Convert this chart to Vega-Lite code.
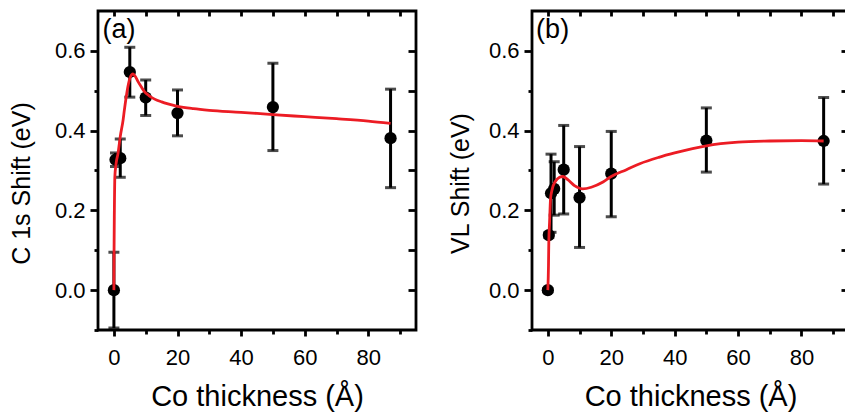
{
  "$schema": "https://vega.github.io/schema/vega-lite/v6.json",
  "background": "white",
  "padding": {"left": 8, "top": 8, "right": 0, "bottom": 0},
  "spacing": 28,
  "datasets": {
    "ptsA": [
      {"x": 0, "y": 0, "lo": -0.095, "hi": 0.095},
      {"x": 0.5, "y": 0.327, "lo": 0.31, "hi": 0.344},
      {"x": 2, "y": 0.331, "lo": 0.283, "hi": 0.379},
      {"x": 5, "y": 0.547, "lo": 0.484, "hi": 0.609},
      {"x": 10, "y": 0.483, "lo": 0.438, "hi": 0.527},
      {"x": 20, "y": 0.444, "lo": 0.387, "hi": 0.502},
      {"x": 50, "y": 0.459, "lo": 0.35, "hi": 0.569},
      {"x": 87, "y": 0.381, "lo": 0.257, "hi": 0.504}
    ],
    "ptsB": [
      {"x": 0, "y": 0, "lo": -0.004, "hi": 0.004},
      {"x": 0.3, "y": 0.138, "lo": 0.132, "hi": 0.144},
      {"x": 1, "y": 0.243, "lo": 0.145, "hi": 0.341},
      {"x": 2, "y": 0.254, "lo": 0.188, "hi": 0.322},
      {"x": 5, "y": 0.302, "lo": 0.191, "hi": 0.413},
      {"x": 10, "y": 0.232, "lo": 0.107, "hi": 0.36},
      {"x": 20, "y": 0.292, "lo": 0.184, "hi": 0.398},
      {"x": 50, "y": 0.375, "lo": 0.296, "hi": 0.457},
      {"x": 87, "y": 0.374, "lo": 0.266, "hi": 0.483}
    ],
    "fitA": [
      {"x": 0, "y": 0}, {"x": 0.05, "y": 0.1}, {"x": 0.15, "y": 0.2}, {"x": 0.3, "y": 0.284},
      {"x": 0.7, "y": 0.318}, {"x": 1.3, "y": 0.343}, {"x": 2.0, "y": 0.385}, {"x": 2.9, "y": 0.427},
      {"x": 3.3, "y": 0.452}, {"x": 4.4, "y": 0.51}, {"x": 5.2, "y": 0.535}, {"x": 6.0, "y": 0.542},
      {"x": 6.8, "y": 0.535}, {"x": 7.6, "y": 0.523}, {"x": 8.6, "y": 0.51}, {"x": 9.6, "y": 0.498},
      {"x": 11, "y": 0.488}, {"x": 12.8, "y": 0.479}, {"x": 15, "y": 0.472}, {"x": 17, "y": 0.467},
      {"x": 20, "y": 0.461}, {"x": 25, "y": 0.455}, {"x": 30, "y": 0.451}, {"x": 40, "y": 0.446},
      {"x": 50, "y": 0.44}, {"x": 60, "y": 0.435}, {"x": 70, "y": 0.43}, {"x": 80, "y": 0.424},
      {"x": 87, "y": 0.418}
    ],
    "fitB": [
      {"x": 0, "y": 0}, {"x": 0.2, "y": 0.061}, {"x": 0.3, "y": 0.12}, {"x": 0.54, "y": 0.17},
      {"x": 0.85, "y": 0.229}, {"x": 1.4, "y": 0.254}, {"x": 2.4, "y": 0.273}, {"x": 3.7, "y": 0.283},
      {"x": 4.7, "y": 0.285}, {"x": 6.3, "y": 0.277}, {"x": 8.4, "y": 0.262}, {"x": 11, "y": 0.254},
      {"x": 13.7, "y": 0.258}, {"x": 17.4, "y": 0.271}, {"x": 20, "y": 0.285}, {"x": 24.8, "y": 0.302},
      {"x": 29, "y": 0.317}, {"x": 35, "y": 0.333}, {"x": 40, "y": 0.344}, {"x": 50, "y": 0.362},
      {"x": 60, "y": 0.371}, {"x": 70, "y": 0.374}, {"x": 80, "y": 0.375}, {"x": 87, "y": 0.374}
    ]
  },
  "hconcat": [
    {
      "width": 318,
      "height": 319,
      "resolve": {"axis": {"x": "independent", "y": "independent"}},
      "layer": [
        {
          "data": {"name": "ptsA"},
          "mark": {"type": "rule", "color": "black", "strokeWidth": 3},
          "encoding": {
            "x": {"field": "x", "type": "quantitative", "scale": {"domain": [-5, 95], "nice": false, "zero": false},
                  "axis": {"orient": "bottom", "values": [0, 20, 40, 60, 80], "format": "d", "tickSize": 6, "labelPadding": 11, "title": "Co thickness (Å)", "titleFontSize": 29, "titlePadding": 14}},
            "y": {"field": "lo", "type": "quantitative", "scale": {"domain": [-0.1, 0.7], "nice": false, "zero": false},
                  "axis": {"orient": "left", "values": [0, 0.2, 0.4, 0.6], "format": ".1f", "tickSize": 8, "labelPadding": 5, "title": "C 1s  Shift (eV)", "titleFontSize": 25, "titlePadding": 20, "titleY": 172}},
            "y2": {"field": "hi"}
          }
        },
        {
          "data": {"name": "ptsA"},
          "mark": {"type": "tick", "orient": "horizontal", "color": "black", "size": 11, "thickness": 3},
          "encoding": {
            "x": {"field": "x", "type": "quantitative", "scale": {"domain": [-5, 95], "nice": false, "zero": false},
                  "axis": {"orient": "bottom", "values": [10, 30, 50, 70, 90], "labels": false, "tickSize": 4, "title": null}},
            "y": {"field": "lo", "type": "quantitative", "scale": {"domain": [-0.1, 0.7], "nice": false, "zero": false},
                  "axis": {"orient": "left", "values": [-0.1, 0.1, 0.3, 0.5], "labels": false, "tickSize": 4, "title": null}}
          }
        },
        {
          "data": {"name": "ptsA"},
          "mark": {"type": "tick", "orient": "horizontal", "color": "black", "size": 11, "thickness": 3},
          "encoding": {
            "x": {"field": "x", "type": "quantitative", "scale": {"domain": [-5, 95], "nice": false, "zero": false},
                  "axis": {"orient": "top", "values": [0, 10, 20, 30, 40, 50, 60, 70, 80, 90], "labels": false, "tickSize": -5, "title": null}},
            "y": {"field": "hi", "type": "quantitative", "scale": {"domain": [-0.1, 0.7], "nice": false, "zero": false},
                  "axis": {"orient": "right", "values": [0, 0.1, 0.2, 0.3, 0.4, 0.5, 0.6], "labels": false, "tickSize": -8, "title": null}}
          }
        },
        {
          "data": {"name": "ptsA"},
          "mark": {"type": "circle", "color": "black", "opacity": 1, "size": 150},
          "encoding": {
            "x": {"field": "x", "type": "quantitative", "scale": {"domain": [-5, 95], "nice": false, "zero": false}, "axis": null},
            "y": {"field": "y", "type": "quantitative", "scale": {"domain": [-0.1, 0.7], "nice": false, "zero": false}, "axis": null}
          }
        },
        {
          "data": {"name": "fitA"},
          "mark": {"type": "line", "color": "#ec1c24", "strokeWidth": 2.8, "interpolate": "monotone"},
          "encoding": {
            "x": {"field": "x", "type": "quantitative", "scale": {"domain": [-5, 95], "nice": false, "zero": false}, "axis": null},
            "y": {"field": "y", "type": "quantitative", "scale": {"domain": [-0.1, 0.7], "nice": false, "zero": false}, "axis": null}
          }
        },
        {
          "data": {"values": [{"label": "(a)"}]},
          "mark": {"type": "text", "align": "left", "baseline": "alphabetic", "fontSize": 27, "font": "Liberation Sans", "color": "black"},
          "encoding": {
            "text": {"field": "label"},
            "x": {"datum": -3.6, "type": "quantitative", "axis": null},
            "y": {"datum": 0.632, "type": "quantitative", "axis": null}
          }
        }
      ]
    },
    {
      "width": 317,
      "height": 319,
      "resolve": {"axis": {"x": "independent", "y": "independent"}},
      "layer": [
        {
          "data": {"name": "ptsB"},
          "mark": {"type": "rule", "color": "black", "strokeWidth": 3},
          "encoding": {
            "x": {"field": "x", "type": "quantitative", "scale": {"domain": [-5, 95], "nice": false, "zero": false},
                  "axis": {"orient": "bottom", "values": [0, 20, 40, 60, 80], "format": "d", "tickSize": 6, "labelPadding": 11, "title": "Co thickness (Å)", "titleFontSize": 29, "titlePadding": 14}},
            "y": {"field": "lo", "type": "quantitative", "scale": {"domain": [-0.1, 0.7], "nice": false, "zero": false},
                  "axis": {"orient": "left", "values": [0, 0.2, 0.4, 0.6], "format": ".1f", "tickSize": 8, "labelPadding": 5, "title": "VL Shift (eV)", "titleFontSize": 25, "titlePadding": 15, "titleY": 172}},
            "y2": {"field": "hi"}
          }
        },
        {
          "data": {"name": "ptsB"},
          "mark": {"type": "tick", "orient": "horizontal", "color": "black", "size": 11, "thickness": 3},
          "encoding": {
            "x": {"field": "x", "type": "quantitative", "scale": {"domain": [-5, 95], "nice": false, "zero": false},
                  "axis": {"orient": "bottom", "values": [10, 30, 50, 70, 90], "labels": false, "tickSize": 4, "title": null}},
            "y": {"field": "lo", "type": "quantitative", "scale": {"domain": [-0.1, 0.7], "nice": false, "zero": false},
                  "axis": {"orient": "left", "values": [-0.1, 0.1, 0.3, 0.5], "labels": false, "tickSize": 4, "title": null}}
          }
        },
        {
          "data": {"name": "ptsB"},
          "mark": {"type": "tick", "orient": "horizontal", "color": "black", "size": 11, "thickness": 3},
          "encoding": {
            "x": {"field": "x", "type": "quantitative", "scale": {"domain": [-5, 95], "nice": false, "zero": false},
                  "axis": {"orient": "top", "values": [0, 10, 20, 30, 40, 50, 60, 70, 80, 90], "labels": false, "tickSize": -5, "title": null}},
            "y": {"field": "hi", "type": "quantitative", "scale": {"domain": [-0.1, 0.7], "nice": false, "zero": false},
                  "axis": {"orient": "right", "values": [0, 0.1, 0.2, 0.3, 0.4, 0.5, 0.6], "labels": false, "tickSize": -8, "title": null}}
          }
        },
        {
          "data": {"name": "ptsB"},
          "mark": {"type": "circle", "color": "black", "opacity": 1, "size": 150},
          "encoding": {
            "x": {"field": "x", "type": "quantitative", "scale": {"domain": [-5, 95], "nice": false, "zero": false}, "axis": null},
            "y": {"field": "y", "type": "quantitative", "scale": {"domain": [-0.1, 0.7], "nice": false, "zero": false}, "axis": null}
          }
        },
        {
          "data": {"name": "fitB"},
          "mark": {"type": "line", "color": "#ec1c24", "strokeWidth": 2.8, "interpolate": "monotone"},
          "encoding": {
            "x": {"field": "x", "type": "quantitative", "scale": {"domain": [-5, 95], "nice": false, "zero": false}, "axis": null},
            "y": {"field": "y", "type": "quantitative", "scale": {"domain": [-0.1, 0.7], "nice": false, "zero": false}, "axis": null}
          }
        },
        {
          "data": {"values": [{"label": "(b)"}]},
          "mark": {"type": "text", "align": "left", "baseline": "alphabetic", "fontSize": 27, "font": "Liberation Sans", "color": "black"},
          "encoding": {
            "text": {"field": "label"},
            "x": {"datum": -3.7, "type": "quantitative", "axis": null},
            "y": {"datum": 0.633, "type": "quantitative", "axis": null}
          }
        }
      ]
    }
  ],
  "config": {
    "view": {"stroke": "black", "strokeWidth": 2.8},
    "font": "Liberation Sans",
    "axis": {
      "domain": false,
      "grid": false,
      "tickColor": "black",
      "tickWidth": 2.8,
      "labelFont": "Liberation Sans",
      "labelFontSize": 22,
      "labelColor": "black",
      "titleFont": "Liberation Sans",
      "titleFontWeight": "normal",
      "titleColor": "black",
      "labelFlush": false,
      "labelOverlap": false
    }
  }
}
